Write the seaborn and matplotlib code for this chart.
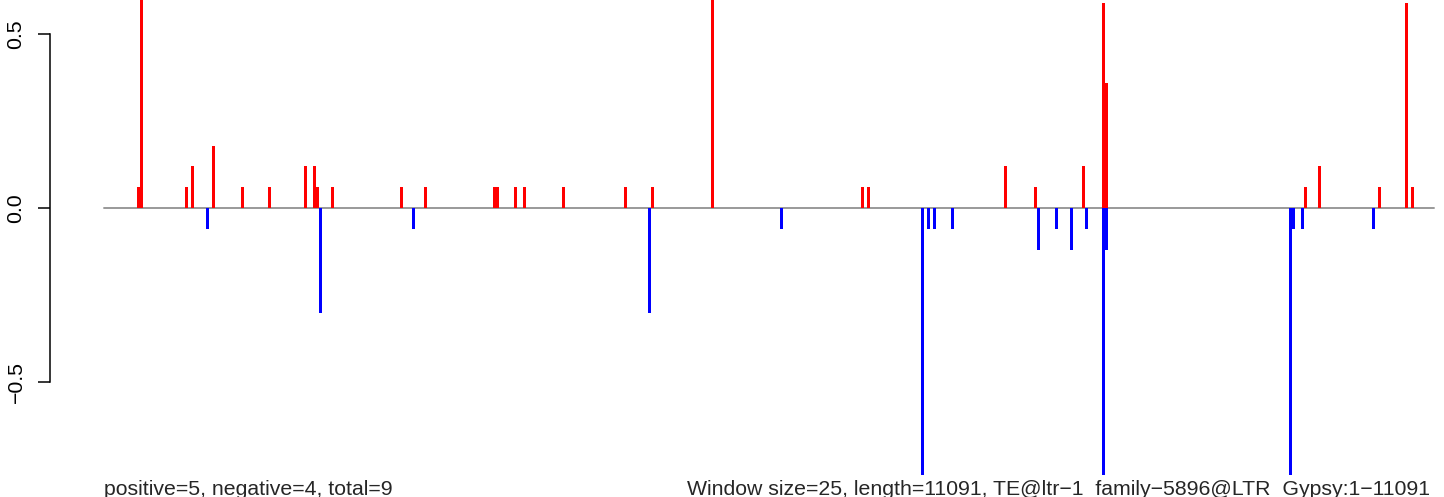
import pandas as pd
import matplotlib.pyplot as plt
import matplotlib.transforms as mtransforms
import seaborn as sns


sns.set_theme(style="white")
plt.rcParams['font.family'] = ['Liberation Sans', 'DejaVu Sans']

# 1. Data: window midpoint (bp) and score per window
seq_length = 11091
window_size = 25
n_positive = 5
n_negative = 4
te_name = "TE@ltr\u22121_family\u22125896@LTR_Gypsy"

pos_up = [288, 313, 689, 739, 914, 1156, 1381, 1681, 1756, 1781, 1906,
          2482, 2682, 3259, 3284, 3432, 3507, 3832, 4349, 4575, 5075,
          6326, 6376, 7518, 7768, 8169, 8337, 8362, 10020, 10137, 10637,
          10862, 10912]
score_up = [0.06, 0.8, 0.06, 0.12, 0.18, 0.06, 0.06, 0.12, 0.12, 0.06, 0.06,
            0.06, 0.06, 0.06, 0.06, 0.06, 0.06, 0.06, 0.06, 0.06, 0.8,
            0.06, 0.06, 0.12, 0.06, 0.12, 0.59, 0.36, 0.06, 0.12, 0.06,
            0.59, 0.06]

pos_down = [864, 1806, 2582, 4550, 5650, 6826, 6876, 6926, 7076, 7793,
            7943, 8069, 8194, 8337, 8362, 9897, 9922, 9995, 10587]
score_down = [-0.06, -0.3, -0.06, -0.3, -0.06, -0.8, -0.06, -0.06, -0.06, -0.12,
              -0.06, -0.12, -0.06, -0.8, -0.12, -0.8, -0.06, -0.06, -0.06]

y_ticks = [-0.5, 0.0, 0.5]
y_tick_labels = ['\u22120.5', '0.0', '0.5']

df_up = pd.DataFrame({'pos': pos_up, 'score': score_up})
df_down = pd.DataFrame({'pos': pos_down, 'score': score_down})

# 2. Figure (R-like layout, no x axis)
fig = plt.figure(figsize=(14.44, 4.97), dpi=100)
ax = fig.add_axes([50 / 1444, 21.7 / 497, 1394 / 1444, 475.3 / 497])

ax.plot([0, seq_length], [0, 0], color='#999999', lw=1.4, zorder=1)
sns.barplot(data=df_up, x='pos', y='score', native_scale=True, width=1,
            color='red', saturation=1, errorbar=None, linewidth=0, ax=ax, zorder=2)
sns.barplot(data=df_down, x='pos', y='score', native_scale=True, width=1,
            color='blue', saturation=1, errorbar=None, linewidth=0, ax=ax, zorder=2)

ax.set_xlim(-448, 11176)
ax.set_ylim(-0.767, 0.598)
ax.set_xlabel('')
ax.set_ylabel('')
ax.set_xticks([])
ax.set_yticks(y_ticks)
ax.set_yticklabels(y_tick_labels, rotation=90, va='center')
ax.tick_params(axis='y', left=True, direction='out', length=8.6, width=1.1,
               pad=9, labelsize=15.3, colors='black')

for side in ['top', 'right', 'bottom']:
    ax.spines[side].set_visible(False)
ax.spines['left'].set_bounds(-0.5, 0.5)
ax.spines['left'].set_color('black')
ax.spines['left'].set_linewidth(1.1)

# 3. Bottom annotations
trans = mtransforms.blended_transform_factory(ax.transData, fig.transFigure)
ax.text(0, 2 / 497, f"positive={n_positive}, negative={n_negative}, total={n_positive + n_negative}",
        transform=trans, ha='left', va='baseline', fontsize=15.3, clip_on=False)
trans_right = mtransforms.offset_copy(trans, fig=fig, x=-4, units='dots')
ax.text(seq_length, 2 / 497,
        f"Window size={window_size}, length={seq_length}, {te_name}:1\u2212{seq_length}",
        transform=trans_right, ha='right', va='baseline', fontsize=15.3, clip_on=False)

fig.savefig('out.png', dpi=100)
plt.close()
